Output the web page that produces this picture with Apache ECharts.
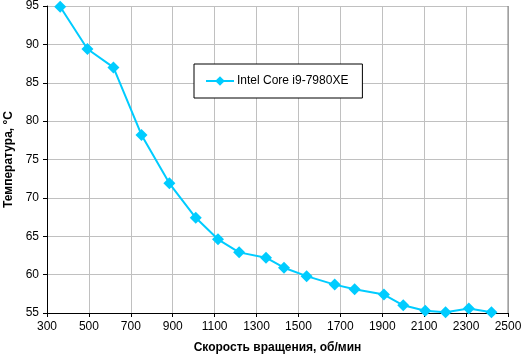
<!DOCTYPE html>
<html><head><meta charset="utf-8">
<script src="https://cdn.jsdelivr.net/npm/echarts@6/dist/echarts.min.js"></script>
<style>html,body{margin:0;padding:0;background:#fff}#c{width:521px;height:355px}</style>
</head><body><div id="c"></div>
<script>
const seriesName = 'Intel Core i9-7980XE';
const rpm = [363, 493, 617, 751, 884, 1010, 1116, 1217, 1345, 1431, 1539, 1673, 1768, 1908, 2000, 2105, 2202, 2313, 2421];
const temps = [94.9, 89.4, 87.0, 78.2, 71.9, 67.4, 64.6, 62.9, 62.2, 60.9, 59.8, 58.7, 58.1, 57.4, 56.0, 55.3, 55.1, 55.6, 55.1];
const xTitle = 'Скорость вращения, об/мин';
const yTitle = 'Температура, °С';
const data = rpm.map((x, i) => [x, temps[i]]);
const chart = echarts.init(document.getElementById('c'), null, {renderer: 'canvas'});
const font = 'Arial, "Liberation Sans", sans-serif';
chart.setOption({
  animation: false,
  backgroundColor: '#fff',
  grid: {left: 47, right: 13, top: 6, bottom: 42, containLabel: false, outerBoundsMode: 'none', show: false},
  legend: {
    show: true, left: 194, top: 64,
    padding: [11, 14, 11, 11],
    borderColor: '#000', borderWidth: 1, backgroundColor: '#fff',
    itemWidth: 28, itemHeight: 12, itemGap: 0,
    textStyle: {fontFamily: font, fontSize: 12, color: '#000', padding: [0, 0, 0, -2]},
    data: [seriesName]
  },
  xAxis: {
    type: 'value', min: 300, max: 2500, interval: 200,
    axisLine: {show: true, lineStyle: {color: '#000', width: 1}},
    axisTick: {show: true, inside: false, length: 4, lineStyle: {color: '#000'}},
    axisLabel: {fontFamily: font, fontSize: 12, color: '#000', margin: 8, formatter: v => String(v)},
    splitLine: {show: true, lineStyle: {color: '#c0c0c0', width: 1}},
    name: xTitle, nameLocation: 'middle', nameGap: 29,
    nameTextStyle: {fontFamily: font, fontSize: 12, fontWeight: 'bold', color: '#000'}
  },
  yAxis: {
    type: 'value', min: 55, max: 95, interval: 5,
    axisLine: {show: true, lineStyle: {color: '#000', width: 1}},
    axisTick: {show: true, inside: false, length: 4, lineStyle: {color: '#000'}},
    axisLabel: {fontFamily: font, fontSize: 12, color: '#000', margin: 8},
    splitLine: {show: true, lineStyle: {color: '#c0c0c0', width: 1}},
    name: yTitle, nameLocation: 'middle', nameGap: 32, nameRotate: 90,
    nameTextStyle: {fontFamily: font, fontSize: 12, fontWeight: 'bold', color: '#000'}
  },
  graphic: [{
    type: 'line', shape: {x1: 508, y1: 6, x2: 508, y2: 313}, style: {stroke: '#808080', lineWidth: 1}, z: 5
  }],
  series: [{
    name: seriesName, type: 'line', data: data,
    symbol: 'diamond', symbolSize: 12,
    lineStyle: {color: '#00ccff', width: 2},
    itemStyle: {color: '#00ccff'},
    z: 10
  }]
});
</script></body></html>
